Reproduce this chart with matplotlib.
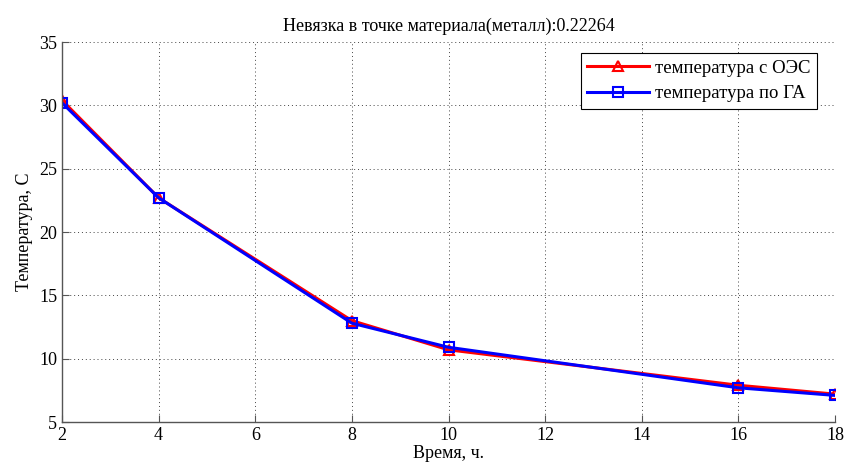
import matplotlib
matplotlib.use("Agg")
import matplotlib.pyplot as plt

x = [2, 4, 8, 10, 16, 18]
temp_oes = [30.4, 22.7, 13.0, 10.7, 7.9, 7.2]
temp_ga = [30.2, 22.7, 12.8, 10.9, 7.7, 7.1]
xticks = [2, 4, 6, 8, 10, 12, 14, 16, 18]
yticks = [5, 10, 15, 20, 25, 30, 35]

plt.rcParams['font.family'] = ['Liberation Serif', 'DejaVu Serif']
fig = plt.figure(figsize=(8.48, 4.69), dpi=100)
ax = fig.add_axes([62/848, 1-422/469, (835-62)/848, (422-42)/469])

ax.plot(x, temp_oes, color='#ff0000', lw=2.2, marker='^', markersize=7,
        markerfacecolor='none', markeredgecolor='#ff0000', markeredgewidth=1.5,
        label='температура с ОЭС')
ax.plot(x, temp_ga, color='#0000ff', lw=2.2, marker='s', markersize=7,
        markerfacecolor='none', markeredgecolor='#0000ff', markeredgewidth=1.5,
        label='температура по ГА')

ax.set_xlim(2, 18)
ax.set_ylim(5, 35)
ax.set_xticks(xticks)
ax.set_yticks(yticks)
ax.grid(True, linestyle=(0, (1, 3)), color='#444444', linewidth=0.7)
ax.tick_params(direction='in', labelsize=13, length=5, color='#555555')
for side in ['top', 'right']:
    ax.spines[side].set_visible(False)
for side in ['left', 'bottom']:
    ax.spines[side].set_linewidth(1.0)
    ax.spines[side].set_color('#555555')
ax.set_title('Невязка в точке материала(металл):0.22264', fontsize=13, pad=8)
ax.set_xlabel('Время, ч.', fontsize=13, labelpad=1)
ax.set_ylabel('Температура, С', fontsize=13, labelpad=4)

leg = ax.legend(loc='upper right', bbox_to_anchor=(817/848, 1-53/469),
                bbox_transform=fig.transFigure, fontsize=13.5, fancybox=False,
                framealpha=1, edgecolor='black', handlelength=3.3, borderpad=0.35,
                labelspacing=0.45, handletextpad=0.3, borderaxespad=0)
leg.get_frame().set_linewidth(0.8)

fig.savefig('out.png', dpi=100, facecolor='white')
